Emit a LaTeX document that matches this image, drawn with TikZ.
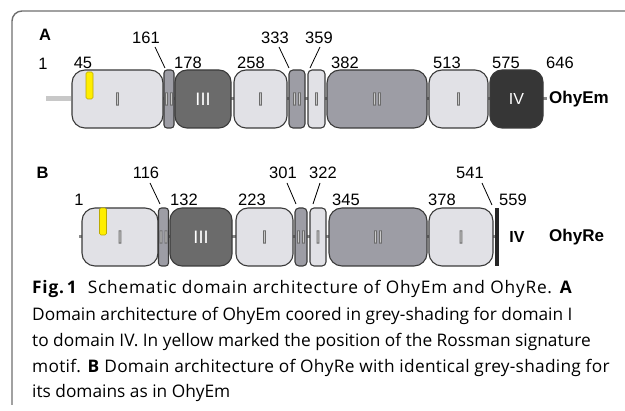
\documentclass[tikz,border=0pt]{standalone}
\usepackage{fontspec}
\setmainfont{Liberation Sans}
\newfontfamily\capfont{Open Sans}
\newfontfamily\holfont[FakeBold=5]{Liberation Sans}
\usetikzlibrary{backgrounds}
\definecolor{lgt}{HTML}{E1E1E6}
\definecolor{mid}{HTML}{9D9DA5}
\definecolor{drk}{HTML}{6B6B6B}
\definecolor{blk}{HTML}{363636}
\definecolor{edge}{HTML}{3A3A3A}
\definecolor{bbone}{HTML}{8A8A8A}
\definecolor{leadc}{HTML}{C8C8C8}
\definecolor{yel}{HTML}{FFEE00}
\definecolor{yeledge}{HTML}{BBAA00}
\definecolor{frm}{HTML}{6E6E6E}
% white fill, grey stroke: emboldened font is drawn with fill+stroke
\newcommand\hollow[1]{\special{pdf:bcolor [1] [0.42]}{\holfont #1}\special{pdf:ecolor}}
\tikzset{
  dom/.style={draw=edge, line width=1.1pt, minimum height=58pt, inner sep=0pt,
    font=\fontsize{18}{18}\selectfont},
  num/.style={font=\fontsize{16.5}{16.5}\selectfont, inner sep=0pt},
  prot/.style={font=\bfseries\fontsize{17}{17}\selectfont, inner sep=0pt, anchor=west},
  panel/.style={font=\bfseries\fontsize{16.5}{16.5}\selectfont, inner sep=0pt},
  tick/.style={line width=0.8pt, black},
  capline/.style={anchor=base west, inner sep=0pt, font=\capfont\fontsize{17.3}{26}\selectfont},
  yelbox/.style={fill=yel, draw=yeledge, line width=0.6pt, rounded corners=1.5pt, minimum width=7pt, inner sep=0pt}
}
\newcommand\domnode[7]{% name, x1, x2, y, fill, radius, text
  \node[dom, fill=#5, rounded corners=#6pt, minimum width=#3pt-#2pt] (#1) at ({(#2+#3)/2}, #4) {#7};}
\begin{document}
\begin{tikzpicture}[x=1pt, y=-1pt]
\useasboundingbox (0,0) rectangle (625,411);
% frame
\draw[frm, line width=1.4pt, rounded corners=10pt] (626,11) -- (12,11) -- (12,405);

% ---------- panel A ----------
\node[panel] (pA) at (45,35) {A};
\coordinate (a0) at (46,99);
\coordinate (aend) at (546.5,99);
\domnode{a1}{72}{163}{99}{lgt}{13}{\hollow{I}}
\domnode{a2}{165}{173}{99}{mid}{3}{\hollow{II}}
\domnode{a3}{175}{231}{99}{drk}{12}{\textcolor{white}{III}}
\domnode{a4}{234}{287}{99}{lgt}{12}{\hollow{I}}
\domnode{a5}{289}{305}{99}{mid}{4}{\hollow{II}}
\domnode{a6}{308}{325}{99}{lgt}{4}{\hollow{I}}
\domnode{a7}{327}{427}{99}{mid}{13}{\hollow{II}}
\domnode{a8}{429}{488}{99}{lgt}{13}{\hollow{I}}
\domnode{a9}{490}{543}{99}{blk}{12}{\fontsize{16}{16}\selectfont\textcolor{white}{IV}}
\begin{scope}[on background layer]
  \draw[leadc, line width=5pt] (a0) -- (a1.west);
  \draw[bbone, line width=3pt] (a1.center) -- (aend);
\end{scope}
\node[yelbox, minimum height=27pt] (ya) at (89.5,85.5) {};
\node[prot] (nEm) at (549,99) {OhyEm};
% labels A
\node[num] (l1) at (43,64) {1};
\node[num] (l45) at (83,63) {45};
\node[num] (l161) at (146,37.5) {161};
\node[num] (l178) at (188,63) {178};
\node[num] (l258) at (251,63) {258};
\node[num] (l333) at (275,37.5) {333};
\node[num] (l359) at (319,37.5) {359};
\node[num] (l382) at (345,63) {382};
\node[num] (l513) at (447,63) {513};
\node[num] (l575) at (506,63) {575};
\node[num] (l646) at (560,63) {646};
\coordinate (t161) at (155,47); \coordinate (t161e) at (165,68);
\coordinate (t333) at (279,47); \coordinate (t333e) at (289,68);
\coordinate (t359) at (320,47); \coordinate (t359e) at (310,68);
\draw[tick] (t161) -- (t161e);
\draw[tick] (t333) -- (t333e);
\draw[tick] (t359) -- (t359e);

% ---------- panel B ----------
\node[panel] (pB) at (42.5,173) {B};
\coordinate (b0) at (79,237);
\domnode{b1}{82}{158}{237}{lgt}{13}{\hollow{I}}
\domnode{b2}{160}{167}{237}{mid}{3}{\hollow{II}}
\domnode{b3}{170}{232}{237}{drk}{12}{\textcolor{white}{III}}
\domnode{b4}{236}{293}{237}{lgt}{12}{\hollow{I}}
\domnode{b5}{295}{307}{237}{mid}{4}{\hollow{II}}
\domnode{b6}{310}{326}{237}{lgt}{4}{\hollow{I}}
\domnode{b7}{329}{427}{237}{mid}{13}{\hollow{II}}
\domnode{b8}{429}{493}{237}{lgt}{13}{\hollow{I}}
\node[fill=black!85, minimum width=4pt, minimum height=58pt, inner sep=0pt] (b9) at (497,237) {};
\begin{scope}[on background layer]
  \draw[bbone, line width=3pt] (b0) -- (b9.center);
\end{scope}
\node[yelbox, minimum height=27pt] (yb) at (103,221.5) {};
\node[font=\bfseries\fontsize{16}{16}\selectfont, inner sep=0pt] (ivB) at (517,237) {IV};
\node[prot] (nRe) at (549,237) {OhyRe};
% labels B
\node[num] (m1) at (79,200) {1};
\node[num] (m116) at (146,173) {116};
\node[num] (m132) at (184,200) {132};
\node[num] (m223) at (252,200) {223};
\node[num] (m301) at (283,173) {301};
\node[num] (m322) at (323,173) {322};
\node[num] (m345) at (346,200) {345};
\node[num] (m378) at (442,200) {378};
\node[num] (m541) at (470,173) {541};
\node[num] (m559) at (513,200) {559};
\coordinate (u116) at (150,183); \coordinate (u116e) at (160,204);
\coordinate (u301) at (287,183); \coordinate (u301e) at (296,204);
\coordinate (u322) at (320,183); \coordinate (u322e) at (313,204);
\coordinate (u541) at (482,183); \coordinate (u541e) at (492,205);
\draw[tick] (u116) -- (u116e);
\draw[tick] (u301) -- (u301e);
\draw[tick] (u322) -- (u322e);
\draw[tick] (u541) -- (u541e);

% ---------- caption ----------
\node[capline] (c1) at (32,294) {\addfontfeatures{LetterSpace=4.5}\textbf{Fig.\,1}\hspace{0.6em}Schematic domain architecture of OhyEm and OhyRe. \textbf{A}};
\node[capline] (c2) at (32,321) {Domain architecture of OhyEm coored in grey-shading for domain I};
\node[capline] (c3) at (32,347) {to domain IV. In yellow marked the position of the Rossman signature};
\node[capline] (c4) at (32,373) {\addfontfeatures{LetterSpace=1.6}motif. \textbf{B} Domain architecture of OhyRe with identical grey-shading for};
\node[capline] (c5) at (32,398) {its domains as in OhyEm};
\end{tikzpicture}
\end{document}
